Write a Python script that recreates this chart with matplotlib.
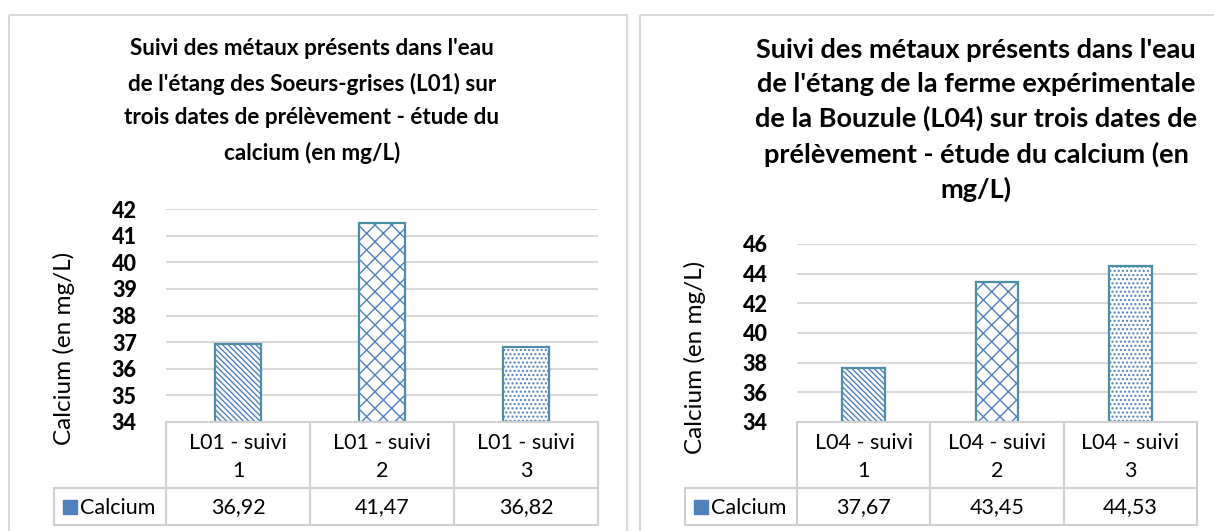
import matplotlib
matplotlib.use("Agg")
import matplotlib.pyplot as plt
from matplotlib.patches import Rectangle

plt.rcParams['font.family'] = ['Lato', 'DejaVu Sans']
plt.rcParams['hatch.linewidth'] = 1.0

# ---- data ----
cats_L01 = ["L01 - suivi\n1", "L01 - suivi\n2", "L01 - suivi\n3"]
vals_L01 = [36.92, 41.47, 36.82]
labels_L01 = ["36,92", "41,47", "36,82"]
ticks_L01 = [34, 35, 36, 37, 38, 39, 40, 41, 42]

cats_L04 = ["L04 - suivi\n1", "L04 - suivi\n2", "L04 - suivi\n3"]
vals_L04 = [37.67, 43.45, 44.53]
labels_L04 = ["37,67", "43,45", "44,53"]
ticks_L04 = [34, 36, 38, 40, 42, 44, 46]

series_name = "Calcium"
title_L01 = ("Suivi des métaux présents dans l'eau\nde l'étang des Soeurs-grises (L01) sur\n"
             "trois dates de prélèvement - étude du\ncalcium (en mg/L)")
title_L04 = ("Suivi des métaux présents dans l'eau\nde l'étang de la ferme expérimentale\n"
             "de la Bouzule (L04) sur trois dates de\nprélèvement - étude du calcium (en\nmg/L)")
ylabel = "Calcium (en mg/L)"

W, H = 1214, 531
fig = plt.figure(figsize=(W / 100, H / 100), dpi=100)
fig.patch.set_facecolor("white")

ov = fig.add_axes([0, 0, 1, 1], zorder=5)
ov.set_xlim(0, W)
ov.set_ylim(H, 0)
ov.axis("off")
ov.patch.set_alpha(0)

GRID = "#d9d9d9"
TBL = "#d0d0d0"
EDGE = "#4a8fa8"
HATCH = "#4f81bd"
patterns = ["\\\\\\\\\\\\", "xx", "...."]
TFS = 15.5


def rect(x0, y0, x1, y1):
    return [x0 / W, 1 - y1 / H, (x1 - x0) / W, (y1 - y0) / H]


def panel(px0, px1, ax_x0, ax_x1, ax_top, ax_bot, leg_x0, ylab_x, ylab_y,
          cats, vals, labels, ticks, title, title_x, title_y, title_fs, title_ls):
    ov.add_patch(Rectangle((px0, 15), px1 - px0, H + 20, fill=False,
                           edgecolor=GRID, lw=1.5))
    ov.text(title_x, title_y, title, ha="center", va="top", fontsize=title_fs,
            fontweight="bold", linespacing=title_ls, color="#000000")

    ax = fig.add_axes(rect(ax_x0, ax_top, ax_x1, ax_bot))
    ax.set_xlim(-0.5, len(vals) - 0.5)
    ax.set_ylim(ticks[0], ticks[-1])
    ax.set_yticks(ticks)
    ax.set_yticklabels([str(t) for t in ticks], fontsize=15.5, fontweight=900)
    ax.tick_params(axis="y", length=0, pad=21)
    ax.set_xticks([])
    for s in ax.spines.values():
        s.set_visible(False)
    ax.grid(axis="y", color=GRID, lw=1.5)
    ax.set_axisbelow(True)
    xs = list(range(len(vals)))
    for i, (x, v) in enumerate(zip(xs, vals)):
        ax.bar(x, v - ticks[0], bottom=ticks[0], width=0.32, color="white",
               edgecolor=HATCH, hatch=patterns[i], lw=0, zorder=2)
        ax.bar(x, v - ticks[0], bottom=ticks[0], width=0.32, fill=False,
               edgecolor=EDGE, lw=1.6, zorder=3)

    ov.text(ylab_x, ylab_y, ylabel, rotation=90, ha="center",
            va="center", fontsize=17.5, color="#000000")

    r0, r1, r2 = ax_bot, 488, 525
    cw = (ax_x1 - ax_x0) / len(cats)
    ov.plot([ax_x0, ax_x1], [r0, r0], color=TBL, lw=1.5)
    ov.plot([leg_x0, ax_x1], [r1, r1], color=TBL, lw=1.5)
    ov.plot([leg_x0, ax_x1], [r2, r2], color=TBL, lw=1.5)
    ov.plot([leg_x0, leg_x0], [r1, r2], color=TBL, lw=1.5)
    for k in range(len(cats) + 1):
        xx = ax_x0 + k * cw
        ov.plot([xx, xx], [r0, r2], color=TBL, lw=1.5)
    for k, (c, lab) in enumerate(zip(cats, labels)):
        cx = ax_x0 + (k + 0.5) * cw
        ov.text(cx, (r0 + r1) / 2 + 2, c, ha="center", va="center",
                fontsize=TFS, linespacing=1.5, color="#000000")
        ov.text(cx, (r1 + r2) / 2 + 1, lab, ha="center", va="center",
                fontsize=TFS, color="#000000")
    ov.add_patch(Rectangle((leg_x0 + 9, 500), 14, 14, color="#4f81bd"))
    ov.text(leg_x0 + 26, (r1 + r2) / 2 + 1, series_name, ha="left", va="center",
            fontsize=TFS, color="#000000")


panel(8.5, 627, 166, 598, 209, 422, 54, 64, 348,
      cats_L01, vals_L01, labels_L01, ticks_L01, title_L01, 312, 38, 16.2, 1.75)
panel(640, 1240, 797, 1197, 244, 422, 685, 695, 357,
      cats_L04, vals_L04, labels_L04, ticks_L04, title_L04, 976, 38, 19.5, 1.48)

fig.savefig("out.png", dpi=100, facecolor="white")
